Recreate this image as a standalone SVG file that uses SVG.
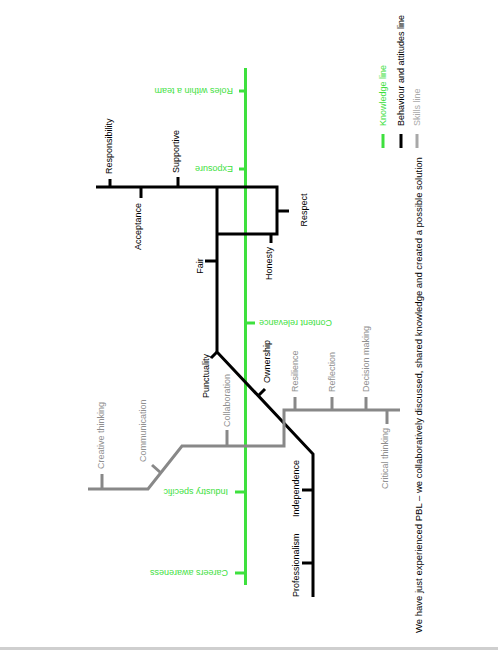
<svg xmlns="http://www.w3.org/2000/svg" width="498" height="650" viewBox="0 0 498 650">
<style>
text{font-family:"Liberation Sans",Arial,sans-serif;font-size:9px;dominant-baseline:central}
.k{fill:#000}
.g{fill:#3ee03e}
.s{fill:#8f8f8f}
.ln{fill:none;stroke-width:3;stroke-linejoin:miter;stroke-linecap:butt}
.kl{stroke:#000}
.gl{stroke:#3ee03e}
.sl{stroke:#888}
</style>
<rect width="498" height="650" fill="#fff"/>
<rect x="0" y="647" width="498" height="3" fill="#cfcfcf"/>
<g id="connectors">
<path class="ln gl" d="M245.5,68V585"/>
<path class="ln kl" d="M96,187H277V234H217M217,187V352L313,454V597"/>
<path class="ln sl" d="M88,489H148L182,446H284V410H400"/>
</g>
<g id="roles-within-a-team"><path class="ln gl" d="M239,91H246"/><text class="g" transform="translate(233,91) rotate(180)">Roles within a team</text></g>
<g id="exposure"><path class="ln gl" d="M239,169H246"/><text class="g" transform="translate(233,169) rotate(180)">Exposure</text></g>
<g id="content-relevance"><path class="ln gl" d="M245,323H255"/><text class="g" transform="translate(259,323) rotate(180)" text-anchor="end">Content relevance</text></g>
<g id="industry-specific"><path class="ln gl" d="M235,492H246"/><text class="g" transform="translate(228,492) rotate(180)">Industry specific</text></g>
<g id="careers-awareness"><path class="ln gl" d="M235,573H246"/><text class="g" transform="translate(228,573) rotate(180)">Careers awareness</text></g>
<g id="responsibility"><path class="ln kl" d="M110,188V179"/><text class="k" transform="translate(109,174) rotate(-90)">Responsibility</text></g>
<g id="acceptance"><path class="ln kl" d="M141,186V198"/><text class="k" transform="translate(138,203) rotate(-90)" text-anchor="end">Acceptance</text></g>
<g id="supportive"><path class="ln kl" d="M178,188V177"/><text class="k" transform="translate(176,173) rotate(-90)">Supportive</text></g>
<g id="respect"><path class="ln kl" d="M276,211H289"/><text class="k" transform="translate(304,210) rotate(-90)" text-anchor="middle">Respect</text></g>
<g id="honesty"><path class="ln kl" d="M271,233V243"/><text class="k" transform="translate(269,247) rotate(-90)" text-anchor="end">Honesty</text></g>
<g id="fair"><path class="ln kl" d="M218,261H205"/><text class="k" transform="translate(200,266) rotate(-90)" text-anchor="middle">Fair</text></g>
<g id="punctuality"><path class="ln kl" d="M217,352L211,358"/><text class="k" transform="translate(206,398) rotate(-90)">Punctuality</text></g>
<g id="ownership"><path class="ln kl" d="M258,396L265,389"/><text class="k" transform="translate(267,383) rotate(-90)">Ownership</text></g>
<g id="independence"><path class="ln kl" d="M314,490H302"/><text class="k" transform="translate(296,517) rotate(-90)">Independence</text></g>
<g id="professionalism"><path class="ln kl" d="M314,563H302"/><text class="k" transform="translate(296,597) rotate(-90)">Professionalism</text></g>
<g id="creative-thinking"><path class="ln sl" d="M102,490V474"/><text class="s" transform="translate(101,469) rotate(-90)">Creative thinking</text></g>
<g id="communication"><path class="ln sl" d="M161,473L152,465"/><text class="s" transform="translate(143,462) rotate(-90)">Communication</text></g>
<g id="collaboration"><path class="ln sl" d="M227,447V430"/><text class="s" transform="translate(227,427) rotate(-90)">Collaboration</text></g>
<g id="resilience"><path class="ln sl" d="M295,411V397"/><text class="s" transform="translate(295,392) rotate(-90)">Resilience</text></g>
<g id="reflection"><path class="ln sl" d="M332,411V397"/><text class="s" transform="translate(332,392) rotate(-90)">Reflection</text></g>
<g id="decision-making"><path class="ln sl" d="M366,411V397"/><text class="s" transform="translate(366,392) rotate(-90)">Decision making</text></g>
<g id="critical-thinking"><path class="ln sl" d="M387,409V424"/><text class="s" transform="translate(385,428) rotate(-90)" text-anchor="end">Critical thinking</text></g>
<g id="caption"><text class="k" style="font-size:9.5px" transform="translate(418,633) rotate(-90)">We have just experienced PBL – we collaboratively discussed, shared knowledge and created a possible solution</text></g>
<g id="legend">
<path class="ln gl" d="M383,134V148"/><text class="g" transform="translate(383,126) rotate(-90)">Knowledge line</text>
<path class="ln kl" d="M401,134V148"/><text class="k" transform="translate(401,126) rotate(-90)">Behaviour and attitudes line</text>
<path class="ln" stroke="#a8a8a8" d="M417,134V148"/><text fill="#aaa" transform="translate(417,126) rotate(-90)">Skills line</text>
</g>
</svg>
